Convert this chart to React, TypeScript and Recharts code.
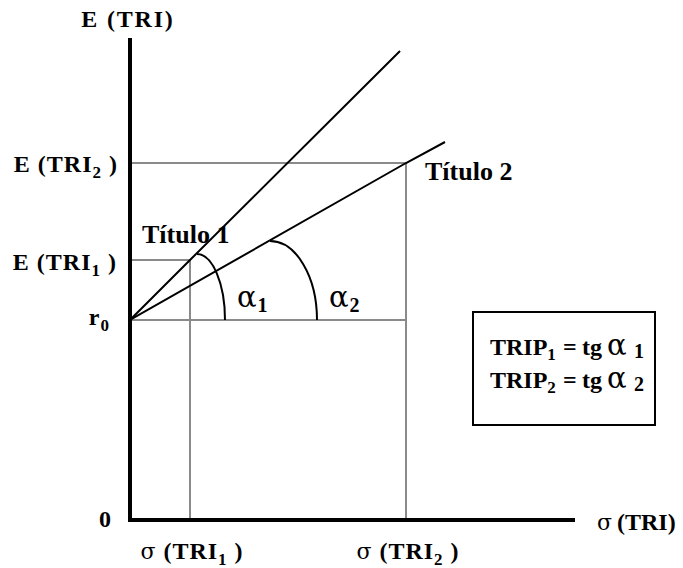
import React from 'react';
import {
  ComposedChart,
  Line,
  XAxis,
  YAxis,
  ReferenceLine,
  Customized,
} from 'recharts';

const SERIF = '"Liberation Serif", "Times New Roman", serif';
const GREEK = '"DejaVu Serif", "Liberation Serif", serif';

// risco (σ) no eixo horizontal, retorno esperado E no vertical
const sigmaTicks = [60, 276];
const sigmaSubs = ['1', '2'];
const eTicks = [0, 200, 260, 357];
const eMain = ['0', 'r', 'E (TRI', 'E (TRI'];
const eSubs = ['', '0', '1', '2'];
const eClose = ['', '', ' )', ' )'];

const r0 = 200;
const titulo1 = [
  { x: 0, y: 200 },
  { x: 60, y: 260 },
  { x: 270, y: 469 },
];
const titulo2 = [
  { x: 0, y: 200 },
  { x: 276, y: 357 },
  { x: 315, y: 378 },
];
const arco1 = [
  { x: 67, y: 266 },
  { x: 95, y: 200 },
];
const arco2 = [
  { x: 140, y: 279 },
  { x: 187, y: 200 },
];
const tituloNames = ['Título 1', 'Título 2'];
const alphaSubs = ['1', '2'];

const GREY = '#8a8a8a';

// quarter of an ellipse between the two points of a series
const quarterArc = (context: any) => {
  let pts: number[][] = [];
  return {
    areaStart() {},
    areaEnd() {},
    lineStart() {
      pts = [];
    },
    point(x: number, y: number) {
      pts.push([x, y]);
    },
    lineEnd() {
      if (pts.length < 2) return;
      const [x0, y0] = pts[0];
      const [x1, y1] = pts[pts.length - 1];
      const k = 0.5523;
      context.moveTo(x0, y0);
      context.bezierCurveTo(x0 + k * (x1 - x0), y0, x1, y1 - k * (y1 - y0), x1, y1);
    },
  };
};

const eDx = [-18, -20, -13, -12];
const eDy = [7, 5, 10, 9];

const ETick = (props: any) => {
  const { x, y, payload } = props;
  const i = eTicks.indexOf(payload.value);
  if (i < 0) return <g />;
  return (
    <text
      x={x + eDx[i]}
      y={y + eDy[i]}
      textAnchor="end"
      fontFamily={SERIF}
      fontWeight="bold"
      fontSize={24}
      letterSpacing={1}
      fill="#000"
    >
      <tspan>{eMain[i]}</tspan>
      {eSubs[i] ? (
        <tspan fontSize={17} dy={6}>
          {eSubs[i]}
        </tspan>
      ) : null}
      {eClose[i] ? <tspan dy={-6}>{eClose[i]}</tspan> : null}
    </text>
  );
};

const SigmaTick = (props: any) => {
  const { x, y, payload } = props;
  const i = sigmaTicks.indexOf(payload.value);
  if (i < 0) return <g />;
  return (
    <text
      x={x + 2}
      y={y + 39}
      textAnchor="middle"
      fontFamily={SERIF}
      fontWeight="bold"
      fontSize={24}
      letterSpacing={1}
      fill="#000"
    >
      <tspan fontWeight="normal" fontFamily={GREEK} fontSize={22}>σ</tspan>
      <tspan> (TRI</tspan>
      <tspan fontSize={17} dy={6}>
        {sigmaSubs[i]}
      </tspan>
      <tspan dy={-6}> )</tspan>
    </text>
  );
};

const tituloLabel = (name: string, dx: number, dy: number) => (p: any) => {
  if (p.index !== 1) return <g key={`t-${name}-${p.index}`} />;
  return (
    <text
      key={`t-${name}`}
      x={p.cx + dx}
      y={p.cy + dy}
      fontFamily={SERIF}
      fontWeight="bold"
      fontSize={26}
      fill="#000"
    >
      {name}
    </text>
  );
};

const alphaLabel = (sub: string) => (p: any) => {
  if (p.index !== 1) return <g key={`a-${sub}-${p.index}`} />;
  return (
    <text key={`a-${sub}`} x={p.cx + 12} y={p.cy - 13} fill="#000">
      <tspan fontFamily={GREEK} fontSize={29}>α</tspan>
      <tspan dx={1} dy={5} fontFamily={SERIF} fontSize={20} fontWeight="bold">
        {sub}
      </tspan>
    </text>
  );
};

const FormulaBox = () => (
  <g fontFamily={SERIF} fill="#000">
    <rect x={473} y={312} width={182} height={113} fill="#fff" stroke="#000" strokeWidth={2} />
    {alphaSubs.map((s, i) => (
      <text key={s} x={490} y={355 + i * 33} fontWeight="bold" fontSize={24}>
        <tspan>TRIP</tspan>
        <tspan fontSize={17} dy={5}>
          {s}
        </tspan>
        <tspan x={563} dy={-5}>=</tspan>
        <tspan x={582}>tg</tspan>
        <tspan x={607} fontWeight="normal" fontFamily={GREEK} fontSize={29}>α</tspan>
        <tspan x={634} dy={3} fontSize={20}>
          {s}
        </tspan>
      </text>
    ))}
  </g>
);

const ETitle = (props: any) => {
  const vb = props.viewBox || {};
  return (
    <text
      x={vb.x + vb.width - 2}
      y={vb.y - 13}
      textAnchor="middle"
      fontFamily={SERIF}
      fontWeight="bold"
      fontSize={24}
      letterSpacing={1.8}
      fill="#000"
    >
      E (TRI)
    </text>
  );
};

const SigmaTitle = (props: any) => {
  const vb = props.viewBox || {};
  return (
    <text
      x={vb.x + vb.width + 24}
      y={vb.y + 10}
      fontFamily={SERIF}
      fontWeight="bold"
      fontSize={24}
      fill="#000"
    >
      <tspan fontWeight="normal" fontFamily={GREEK} fontSize={22}>σ</tspan>
      <tspan dx={5}>(TRI)</tspan>
    </text>
  );
};

export default function App() {
  const s1 = sigmaTicks[0];
  const s2 = sigmaTicks[1];
  const e1 = eTicks[2];
  const e2 = eTicks[3];
  const guides = [
    [{ x: 0, y: r0 }, { x: s2, y: r0 }],
    [{ x: 0, y: e2 }, { x: s2, y: e2 }],
    [{ x: 0, y: e1 }, { x: s1, y: e1 }],
    [{ x: s1, y: 0 }, { x: s1, y: e1 }],
    [{ x: s2, y: 0 }, { x: s2, y: e2 }],
  ];

  return (
    <div style={{ position: 'absolute', left: 0, top: 0, background: '#fff' }}>
      <ComposedChart
        width={683}
        height={568}
        margin={{ top: 40, right: 110, bottom: 18, left: 70 }}
      >
        <XAxis
          type="number"
          dataKey="x"
          domain={[0, 443]}
          ticks={sigmaTicks}
          interval={0}
          tick={<SigmaTick />}
          tickLine={false}
          tickSize={0}
          tickMargin={0}
          height={30}
          allowDataOverflow
          axisLine={{ stroke: '#000', strokeWidth: 4, strokeLinecap: 'square' }}
          label={{ content: <SigmaTitle /> }}
        />
        <YAxis
          type="number"
          dataKey="y"
          domain={[0, 480]}
          ticks={eTicks}
          interval={0}
          tick={<ETick />}
          tickLine={false}
          tickSize={0}
          tickMargin={0}
          width={60}
          allowDataOverflow
          axisLine={{ stroke: '#000', strokeWidth: 4, strokeLinecap: 'square' }}
          label={{ content: <ETitle /> }}
        />
        {guides.map((seg, i) => (
          <ReferenceLine key={i} segment={seg} stroke={GREY} strokeWidth={2} />
        ))}
        <Line
          data={titulo1}
          dataKey="y"
          type="linear"
          stroke="#000"
          strokeWidth={2}
          dot={tituloLabel(tituloNames[0], -48, -17)}
          activeDot={false}
          isAnimationActive={false}
        />
        <Line
          data={titulo2}
          dataKey="y"
          type="linear"
          stroke="#000"
          strokeWidth={2}
          dot={tituloLabel(tituloNames[1], 19, 17)}
          activeDot={false}
          isAnimationActive={false}
        />
        <Line
          data={arco1}
          dataKey="y"
          type={quarterArc as any}
          stroke="#000"
          strokeWidth={2}
          dot={alphaLabel(alphaSubs[0])}
          activeDot={false}
          isAnimationActive={false}
        />
        <Line
          data={arco2}
          dataKey="y"
          type={quarterArc as any}
          stroke="#000"
          strokeWidth={2}
          dot={alphaLabel(alphaSubs[1])}
          activeDot={false}
          isAnimationActive={false}
        />
        <Customized component={<FormulaBox />} />
      </ComposedChart>
    </div>
  );
}
